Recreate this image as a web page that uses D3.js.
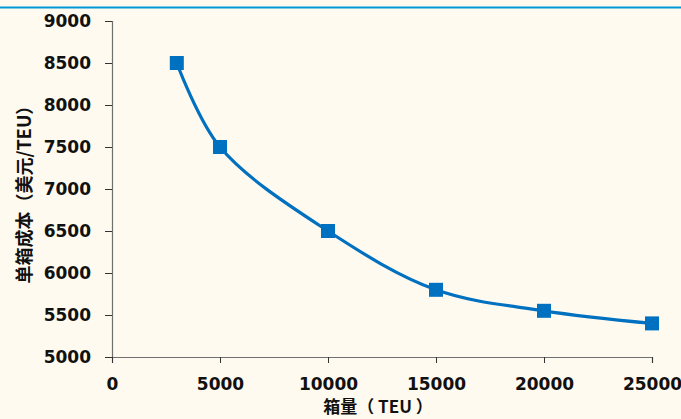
<!DOCTYPE html>
<html>
<head>
<meta charset="utf-8">
<script src="https://cdn.jsdelivr.net/npm/d3@7"></script>
<style>
  html, body { margin: 0; padding: 0; background: #fffaef; }
  svg { display: block; }
  text { font-family: "Noto Sans CJK SC", "DejaVu Sans", sans-serif; font-weight: bold; fill: #111; }
</style>
</head>
<body>
<script>
// Container volume (TEU) and unit cost (USD/TEU)
const volumes = [3000, 5000, 10000, 15000, 20000, 25000];
const unitCosts = [8500, 7500, 6500, 5800, 5550, 5400];
const xTicks = [0, 5000, 10000, 15000, 20000, 25000];
const yTicks = [5000, 5500, 6000, 6500, 7000, 7500, 8000, 8500, 9000];
const xTitle = "箱量（ TEU ）";
const yTitle = "单箱成本（美元/TEU）";

const W = 681, H = 419;
const svg = d3.select("body").append("svg").attr("width", W).attr("height", H);

svg.append("rect").attr("width", W).attr("height", H).attr("fill", "#fffaef");
// top rule
svg.append("line").attr("x1", 0).attr("x2", W).attr("y1", 7.5).attr("y2", 7.5)
  .attr("stroke", "#0098d8").attr("stroke-width", 2);

const x = d3.scaleLinear().domain([0, 25000]).range([112, 652]);
const y = d3.scaleLinear().domain([5000, 9000]).range([357, 21]);

const axisColor = "#6f6f6f";

const yAxis = svg.append("g").attr("transform", "translate(112,0)")
  .call(d3.axisLeft(y).tickValues(yTicks).tickSize(7).tickPadding(14).tickFormat(d3.format("d")));
const xAxis = svg.append("g").attr("transform", "translate(0,357)")
  .call(d3.axisBottom(x).tickValues(xTicks).tickSize(6).tickPadding(15).tickFormat(d3.format("d")));

[xAxis, yAxis].forEach(g => {
  g.select(".domain").attr("stroke", axisColor).attr("stroke-width", 1.2);
  g.selectAll(".tick line").attr("stroke", "#333").attr("stroke-width", 1);
  g.selectAll(".tick text").attr("font-size", 17).attr("fill", "#111")
    .style("font-family", '"DejaVu Sans", sans-serif').style("font-weight", "bold");
});

// axis titles
svg.append("text").attr("x", 378).attr("y", 413).attr("text-anchor", "middle")
  .attr("font-size", 17).text(xTitle);
svg.append("text").attr("transform", "translate(23,190) rotate(-90)")
  .attr("text-anchor", "middle").attr("dominant-baseline", "central")
  .attr("font-size", 18).text(yTitle);

const data = volumes.map((v, i) => ({ v, c: unitCosts[i] }));

const line = d3.line().x(d => x(d.v)).y(d => y(d.c)).curve(d3.curveCatmullRom.alpha(0.5));
svg.append("path").datum(data).attr("d", line)
  .attr("fill", "none").attr("stroke", "#0070c0").attr("stroke-width", 3.2);

const s = 14;
svg.selectAll("rect.pt").data(data).enter().append("rect").attr("class", "pt")
  .attr("x", d => x(d.v) - s / 2).attr("y", d => y(d.c) - s / 2)
  .attr("width", s).attr("height", s).attr("fill", "#0070c0");
</script>
</body>
</html>
